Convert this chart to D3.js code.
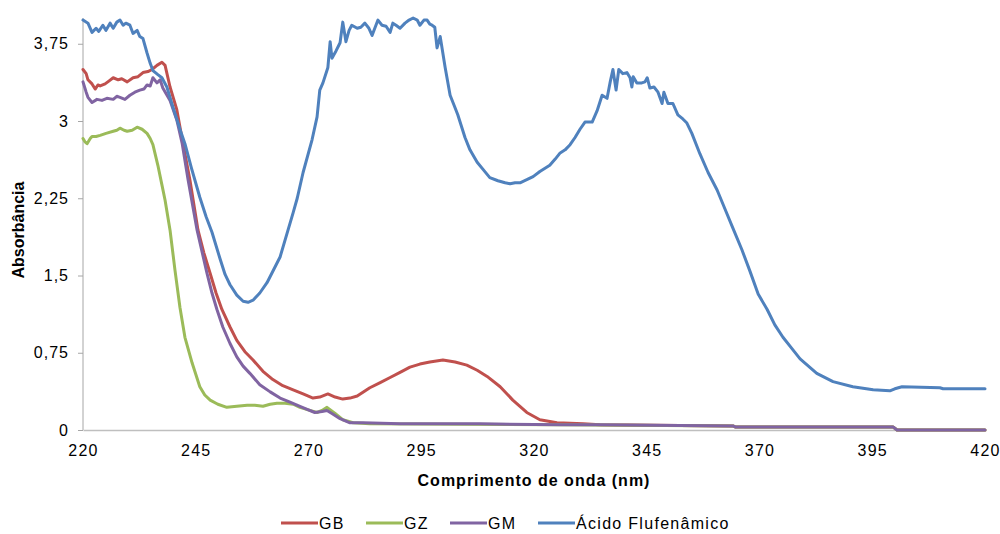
<!DOCTYPE html>
<html><head><meta charset="utf-8">
<script src="https://cdn.jsdelivr.net/npm/d3@7"></script>
<style>body{margin:0;background:#fff}svg{display:block;font-family:"Liberation Sans",Arial,sans-serif}</style>
</head><body><svg id="c" width="1000" height="534"></svg>
<script>
const seriesNames = ["GB", "GZ", "GM", "Ácido Flufenâmico"];
const seriesColors = ["#C0504D", "#9BBB59", "#8064A2", "#4F81BD"];
const xTicks = [220, 245, 270, 295, 320, 345, 370, 395, 420];
const yTicks = [0, 0.75, 1.5, 2.25, 3, 3.75];

// [wavelength nm, absorbance]
const gbData = [[220,3.50],[220.7,3.46],[221.1,3.40],[222,3.36],[222.7,3.31],[223.3,3.35],[223.8,3.34],[224.9,3.36],[225.8,3.39],[226.7,3.42],[227.8,3.40],[228.6,3.41],[229.8,3.38],[231.1,3.42],[232.2,3.43],[233.3,3.47],[234.4,3.48],[235.3,3.50],[236.4,3.54],[237.5,3.57],[238.2,3.54],[239.3,3.33],[240.8,3.11],[242,2.82],[243.7,2.43],[245.5,1.94],[246.8,1.72],[248.2,1.52],[249.5,1.33],[250.8,1.17],[252.6,1.00],[254.1,0.87],[255.9,0.76],[257.7,0.68],[259.9,0.57],[262.1,0.49],[264.3,0.43],[266.6,0.39],[268.8,0.35],[271,0.31],[272.5,0.32],[274.3,0.35],[275.9,0.32],[277.6,0.30],[279.2,0.31],[280.8,0.33],[283.6,0.41],[285.9,0.46],[288.1,0.51],[290.3,0.56],[292.5,0.61],[294.7,0.64],[296.9,0.66],[299.8,0.68],[302.5,0.66],[305.1,0.63],[307.4,0.58],[309.6,0.52],[312.5,0.42],[315.3,0.29],[318.4,0.17],[321.3,0.10],[325.1,0.07],[330.9,0.06],[334.6,0.05],[364.1,0.04],[364.6,0.03],[399.6,0.03],[400.5,0.00],[420,0.00]];
const gzData = [[220,2.83],[220.4,2.80],[220.9,2.78],[221.6,2.83],[222,2.85],[222.9,2.85],[223.8,2.86],[225.1,2.88],[226.7,2.90],[227.5,2.91],[228.2,2.93],[229.1,2.91],[229.8,2.90],[230.9,2.91],[232,2.94],[233.1,2.92],[234.2,2.88],[234.9,2.83],[235.5,2.77],[236.6,2.57],[237.5,2.38],[238.2,2.23],[239.3,1.94],[240.4,1.55],[241.5,1.19],[242.6,0.90],[244.2,0.65],[245.9,0.42],[247,0.34],[248.2,0.29],[249.9,0.25],[251.9,0.22],[254.1,0.23],[256.4,0.24],[258.1,0.24],[259.9,0.23],[261.5,0.25],[263,0.26],[264.8,0.26],[266.6,0.25],[268.1,0.22],[270.3,0.19],[271.9,0.17],[273,0.19],[274.1,0.22],[275,0.19],[275.9,0.16],[277.6,0.10],[279.9,0.07],[283.6,0.06],[325.8,0.05],[364.1,0.04],[364.6,0.03],[399.6,0.03],[400.5,0.00],[420,0.00]];
const gmData = [[220,3.38],[220.7,3.28],[221.1,3.23],[222,3.18],[223.1,3.21],[224.2,3.20],[225.3,3.22],[226.7,3.21],[227.5,3.24],[228.2,3.23],[229.3,3.21],[230.4,3.25],[231.5,3.28],[232.6,3.30],[233.5,3.31],[234.2,3.35],[234.9,3.34],[235.5,3.42],[236.4,3.37],[237.1,3.40],[237.7,3.32],[239.3,3.20],[240.8,3.01],[242,2.78],[243.3,2.43],[245.3,1.94],[247.5,1.52],[248.6,1.33],[249.7,1.17],[251,1.00],[252.6,0.84],[254.1,0.71],[255.5,0.62],[257,0.55],[259.2,0.44],[261.5,0.37],[263.7,0.31],[265.9,0.27],[268.1,0.23],[269.7,0.20],[271.4,0.17],[273,0.18],[274.1,0.19],[275.2,0.16],[277,0.11],[279.2,0.07],[282.1,0.07],[290.3,0.06],[308,0.06],[325.8,0.05],[334.6,0.05],[364.1,0.04],[364.6,0.03],[399.6,0.03],[400.5,0.00],[420,0.00]];
const afData = [[220,3.98],[221.1,3.95],[222,3.86],[222.9,3.90],[223.5,3.87],[224.4,3.93],[225.1,3.88],[226,3.95],[226.7,3.90],[227.5,3.96],[228.2,3.98],[228.9,3.93],[229.5,3.95],[230.4,3.93],[231.1,3.85],[232,3.88],[232.6,3.82],[233.3,3.80],[234.2,3.66],[234.9,3.56],[235.5,3.49],[236.6,3.45],[237.5,3.42],[238.6,3.33],[239.7,3.17],[241.5,2.92],[242.6,2.78],[244,2.55],[245.9,2.26],[247.3,2.07],[248.6,1.92],[250.4,1.66],[251.5,1.51],[252.6,1.41],[254.1,1.31],[255.5,1.25],[256.6,1.24],[257.7,1.26],[259.2,1.33],[260.8,1.43],[263.7,1.68],[266.6,2.11],[267.5,2.25],[268.8,2.50],[270.8,2.82],[271.9,3.04],[272.5,3.30],[273.2,3.37],[274.3,3.52],[274.8,3.77],[275.2,3.61],[276.1,3.68],[277,3.76],[277.6,3.96],[278.3,3.77],[279,3.88],[279.6,3.93],[280.8,3.90],[281.6,3.91],[282.5,3.95],[283.4,3.90],[284.1,3.83],[284.7,3.90],[285.4,3.98],[286.3,3.93],[287.2,3.92],[288.1,3.86],[288.7,3.95],[289.4,3.93],[290.3,3.90],[291.4,3.95],[292.3,3.98],[293.2,4.00],[294.1,3.98],[294.7,3.93],[295.6,3.98],[296.3,3.98],[296.9,3.94],[297.4,3.93],[298,3.91],[298.5,3.71],[299.2,3.82],[300.3,3.52],[301.4,3.25],[302.3,3.15],[303.1,3.06],[304.7,2.84],[305.8,2.72],[307.4,2.60],[308.7,2.53],[310.2,2.45],[312,2.42],[313.6,2.40],[314.7,2.39],[315.8,2.40],[316.9,2.40],[318.4,2.43],[319.8,2.46],[321.3,2.51],[323.5,2.57],[324.7,2.63],[325.8,2.69],[326.9,2.72],[328,2.77],[329.1,2.84],[330.2,2.92],[331.3,2.99],[332.9,2.99],[334,3.10],[335.1,3.25],[336.2,3.22],[336.9,3.38],[337.5,3.50],[338.2,3.30],[338.8,3.50],[339.7,3.46],[340.6,3.47],[341.3,3.42],[341.7,3.33],[342,3.43],[342.8,3.37],[343.9,3.37],[344.6,3.38],[345.1,3.42],[345.7,3.32],[346.6,3.33],[347.5,3.28],[348.4,3.17],[348.8,3.28],[349.7,3.17],[350.8,3.17],[351.9,3.06],[353,3.02],[353.9,2.98],[355,2.88],[356.8,2.68],[358.6,2.50],[360.6,2.33],[362.3,2.15],[364.1,1.96],[366.1,1.75],[367.9,1.54],[369.7,1.32],[371.7,1.17],[373.4,1.02],[375.2,0.90],[377.2,0.79],[379,0.69],[382.7,0.55],[386.3,0.47],[390.7,0.42],[395.2,0.39],[398.9,0.38],[400,0.40],[401.6,0.42],[410,0.41],[410.7,0.40],[420,0.40]];

const allData = [gbData, gzData, gmData, afData];

const svg = d3.select("#c");
const L = 83, R = 985, T = 18, B = 430;
const x = d3.scaleLinear().domain([220, 420]).range([L, R]);
const y = d3.scaleLinear().domain([0, 4]).range([B, T]);
const FONT = "'Liberation Sans', Arial, sans-serif";

// axes
const yAxis = svg.append("g").attr("transform", `translate(${L},0)`)
  .call(d3.axisLeft(y).tickValues(yTicks).tickSize(5).tickPadding(9)
    .tickFormat(d => String(d).replace(".", ",")));
yAxis.select(".domain").attr("stroke", "#a6a6a6").attr("d", `M0,${T}V${B}`);
yAxis.selectAll(".tick line").attr("stroke", "#a6a6a6");
yAxis.selectAll("text").attr("font-size", 16).attr("fill", "#000")
  .attr("letter-spacing", 1).attr("font-family", FONT);

const xAxis = svg.append("g").attr("transform", `translate(0,${B})`)
  .call(d3.axisBottom(x).tickValues(xTicks).tickSize(0).tickPadding(15));
xAxis.select(".domain").attr("stroke", "#bfbfbf").attr("stroke-width", 1.5);
xAxis.selectAll("text").attr("font-size", 16).attr("fill", "#000")
  .attr("letter-spacing", 1.2).attr("font-family", FONT);

// lines
const line = d3.line().x(d => x(d[0])).y(d => y(d[1]));
allData.forEach((data, i) => {
  svg.append("path").datum(data).attr("d", line)
    .attr("fill", "none").attr("stroke", seriesColors[i])
    .attr("stroke-width", 3).attr("stroke-linejoin", "round").attr("stroke-linecap", "round");
});

// titles
svg.append("text").attr("x", (L + R) / 2).attr("y", 486).attr("text-anchor", "middle")
  .attr("font-size", 16).attr("font-weight", "bold").attr("letter-spacing", 1)
  .text("Comprimento de onda (nm)");
svg.append("text").attr("transform", `translate(24,${(T + B) / 2 + 6}) rotate(-90)`)
  .attr("text-anchor", "middle").attr("font-size", 16).attr("font-weight", "bold").text("Absorbância");

// legend
const legendX = [281, 366, 450, 538];
const lg = svg.append("g").attr("transform", "translate(0,523)");
seriesNames.forEach((n, i) => {
  lg.append("line").attr("x1", legendX[i]).attr("x2", legendX[i] + 37).attr("y1", 0).attr("y2", 0)
    .attr("stroke", seriesColors[i]).attr("stroke-width", 3);
  lg.append("text").attr("x", legendX[i] + 38).attr("y", 6).attr("font-size", 16)
    .attr("letter-spacing", 1.3).text(n);
});
</script></body></html>
